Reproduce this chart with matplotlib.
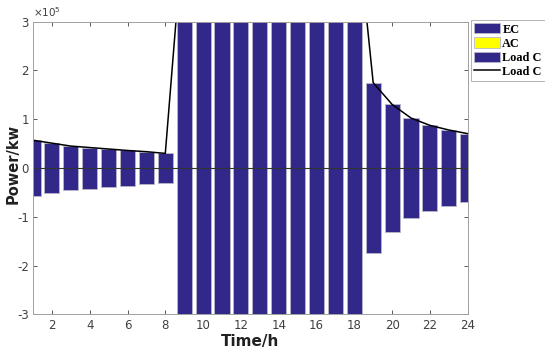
import matplotlib
matplotlib.use("Agg")
import matplotlib.pyplot as plt
import numpy as np

hours = list(range(1, 25))
load_c = [57000, 51000, 45000, 42000, 39000, 36000, 33500, 30000,
          510000, 520000, 530000, 540000, 545000, 550000, 552000, 554000, 555000, 554000,
          175000, 130500, 102500, 87500, 78000, 70500]
ec = load_c
ac = [0] * 24
load_bar = [-v for v in load_c]

bar_color = "#31288a"
edge = "#b8b8c8"

fig = plt.figure(figsize=(5.45, 3.56), dpi=100)
ax = fig.add_axes([0.0606, 0.117, 0.7975, 0.822])

w = 0.8
h_ec = ax.bar(hours, ec, width=w, color=bar_color, edgecolor=edge, linewidth=0.6, zorder=2)
h_ac = ax.bar(hours, ac, width=w, bottom=ec, color="#ffff00", edgecolor=edge, linewidth=0.6, zorder=2)
h_lb = ax.bar(hours, load_bar, width=w, color=bar_color, edgecolor=edge, linewidth=0.6, zorder=2)
h_ln, = ax.plot(hours, load_c, color="black", linewidth=1.1, zorder=3)
ax.axhline(0, color="#333333", linewidth=0.8, zorder=4)

ax.set_xlim(1, 24)
ax.set_ylim(-3e5, 3e5)
ax.set_xticks(range(2, 25, 2))
ax.set_yticks([-3e5, -2e5, -1e5, 0, 1e5, 2e5, 3e5])
ax.set_yticklabels(["-3", "-2", "-1", "0", "1", "2", "3"])
ax.tick_params(direction="in", top=True, right=True, length=3, width=0.6,
               labelsize=8.5, colors="#404040", labelcolor="#404040", pad=3)
for s in ax.spines.values():
    s.set_color("#a0a0a0")
    s.set_linewidth(0.7)
    s.set_zorder(5)

ax.text(0.0, 1.01, "×10$^5$", transform=ax.transAxes, fontsize=7.5, color="#404040",
        ha="left", va="bottom")
ax.set_xlabel("Time/h", fontsize=11, fontweight="bold", color="#202020", labelpad=2)
ax.set_ylabel("Power/kw", fontsize=10.5, fontweight="bold", color="#202020")
ax.yaxis.set_label_coords(-0.028, 0.515)

leg = ax.legend([h_ec, h_ac, h_lb, h_ln], ["EC", "AC", "Load C", "Load C"],
                loc="upper left", bbox_to_anchor=(1.008, 1.005), frameon=True, fancybox=False,
                prop={"family": "Liberation Serif", "weight": "bold", "size": 8.8},
                handlelength=2.1, handleheight=0.9, handletextpad=0.2, labelspacing=0.15,
                borderpad=0.25, borderaxespad=0)
leg.get_frame().set_edgecolor("#a0a0a0")
leg.get_frame().set_linewidth(0.7)

fig.savefig("out.png", dpi=100)
